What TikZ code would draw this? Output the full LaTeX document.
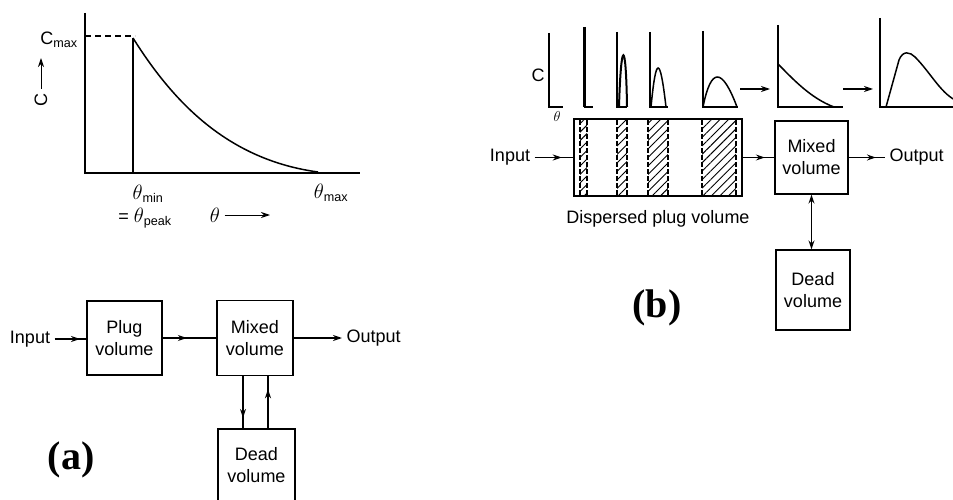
\documentclass[tikz,border=0pt]{standalone}
\usepackage{fontspec}
\setmainfont{Liberation Sans}
\newfontfamily\panelfont{Liberation Serif}
\usepackage{tikz}
\usetikzlibrary{arrows.meta, positioning, decorations.markings, patterns.meta}

\begin{document}
\begin{tikzpicture}[
    x=1pt, y=-1pt,
    line width=1.3pt,
    box/.style={draw, rectangle, align=center, inner sep=0pt,
      font=\fontsize{18}{22}\selectfont},
    lbl/.style={font=\fontsize{18}{22}\selectfont, inner sep=4pt},
    panel/.style={font=\panelfont\bfseries\fontsize{40}{40}\selectfont},
    arrow/.style={-{Stealth[length=9pt,width=6pt]}},
    both/.style={{Stealth[length=9pt,width=6pt]}-{Stealth[length=9pt,width=6pt]}},
    flowto/.style={postaction={decorate}, decoration={markings,
      mark=at position #1 with {\arrow{Stealth[length=9pt,width=6pt]}}}},
    hatch/.style={pattern={Lines[angle=45, distance=6pt, line width=0.9pt]}},
    hatchside/.style={line width=1.1pt, dash pattern=on 5pt off 2pt}
]
\useasboundingbox (0,0) rectangle (953,500);

% (a) response curve
\draw (85,13) -- (85,173) -- (360,173);
\draw[dash pattern=on 6pt off 4pt] (85,36) -- (135,36);
\draw (133,173) -- (133,38);
\draw[line width=1.5pt] (133,38) .. controls (175,105) and (230,160) .. (318,172);
\node[lbl] (cmax) at (59,40) {C\textsubscript{max}};
\node[lbl, rotate=90] (cax) at (41,100) {C};
\coordinate (caxtip) at (41,58);
\draw[arrow, line width=1pt] (cax) -- (caxtip);
\node[lbl, inner sep=0pt] (tmin) at (148,194) {\fontsize{21}{22}\selectfont$\theta$\fontsize{18}{22}\selectfont\textsubscript{min}};
\node[lbl, inner sep=0pt] (tpeak) at (145,218) {= \fontsize{21}{22}\selectfont$\theta$\fontsize{18}{22}\selectfont\textsubscript{peak}};
\node[lbl] (tax) at (215,215) {\fontsize{21}{22}\selectfont$\theta$};
\coordinate (taxtip) at (270,215);
\draw[arrow, line width=1pt] (tax) -- (taxtip);
\node[lbl] (tmax) at (331,193) {\fontsize{21}{22}\selectfont$\theta$\fontsize{18}{22}\selectfont\textsubscript{max}};

% (a) block diagram
\node[lbl] (ina) at (30,339) {Input};
\node[box, minimum width=75pt, minimum height=74pt] (plug) at (124.5,338) {Plug\\volume};
\node[box, minimum width=76pt, minimum height=75pt] (mixa) at (255,338) {Mixed\\volume};
\node[lbl, anchor=west] (outa) at (342,338) {Output};
\node[box, minimum width=77pt, minimum height=72pt] (deada) at (256.5,465) {Dead\\volume};
\draw[flowto=0.8] (ina) -- (ina -| plug.west);
\draw[flowto=0.45] (plug) -- (mixa);
\draw[arrow] (mixa) -- (outa);
\draw[flowto=0.8] ([xshift=-12pt]mixa.south) -- ([xshift=-12pt]mixa.south |- deada.north);
\draw[flowto=0.75] ([xshift=13pt]mixa.south |- deada.north) -- ([xshift=13pt]mixa.south);
\node[panel] (laba) at (71,460) {(a)};

% (b) concentration profiles
\foreach \x/\top/\right in {549/33/563, 617/32/627, 650/32/668,
    703/31/738, 778/25/843, 880/18/953}
  \draw (\x,\top) -- (\x,107) -- (\right,107);
\draw[line width=3pt] (584,27) -- (584,107);
\draw (584,107) -- (593,107);
\draw[line width=2pt] (619,107) .. controls (621,38) and (626,38) .. (627,107);
\draw[line width=1.5pt] (651,107) .. controls (656,55) and (660,55) .. (666,107);
\draw[line width=1.5pt] (703,107) .. controls (711,67) and (722,67) .. (737,107);
\draw[line width=1.5pt] (778,64) .. controls (792,78) and (810,98) .. (834,107);
\draw[line width=1.5pt] (886,107) -- (899,60) .. controls (903,50) and (910,52) .. (915,57)
  .. controls (930,72) and (940,92) .. (955,100);
\node[lbl] (cb) at (538,75) {C};
\node[lbl, font=\fontsize{15}{15}\selectfont] (tb) at (557,117) {$\theta$};
\coordinate (g5end) at (740,89);
\coordinate (g6start) at (770,89);
\coordinate (g6end) at (843,89);
\coordinate (g7start) at (873,89);
\draw[arrow] (g5end) -- (g6start);
\draw[arrow] (g6end) -- (g7start);

% (b) block diagram
\foreach \a/\b in {580/587, 617/627, 648/668, 702/736} {
  \fill[hatch] (\a,120) rectangle (\b,195);
  \draw[hatchside] (\a,120) -- (\a,195) (\b,120) -- (\b,195);
}
\node[box, minimum width=168pt, minimum height=77pt] (disp) at (658,157.5) {};
\node[lbl, below=9pt of disp] (displbl) {Dispersed plug volume};
\node[lbl] (inb) at (510,157.5) {Input};
\node[box, minimum width=73pt, minimum height=73pt] (mixb) at (811.5,157.5) {Mixed\\volume};
\node[lbl, anchor=west] (outb) at (885,157.5) {Output};
\node[box, minimum width=74pt, minimum height=80pt] (deadb) at (813,290) {Dead\\volume};
\draw[flowto=0.7] (inb) -- (disp);
\draw[flowto=0.7] (disp) -- (mixb);
\draw[flowto=0.75] (mixb) -- (outb);
\draw[both] (mixb.south) -- (mixb.south |- deadb.north);
\node[panel] (labb) at (657,308) {(b)};
\end{tikzpicture}
\end{document}
